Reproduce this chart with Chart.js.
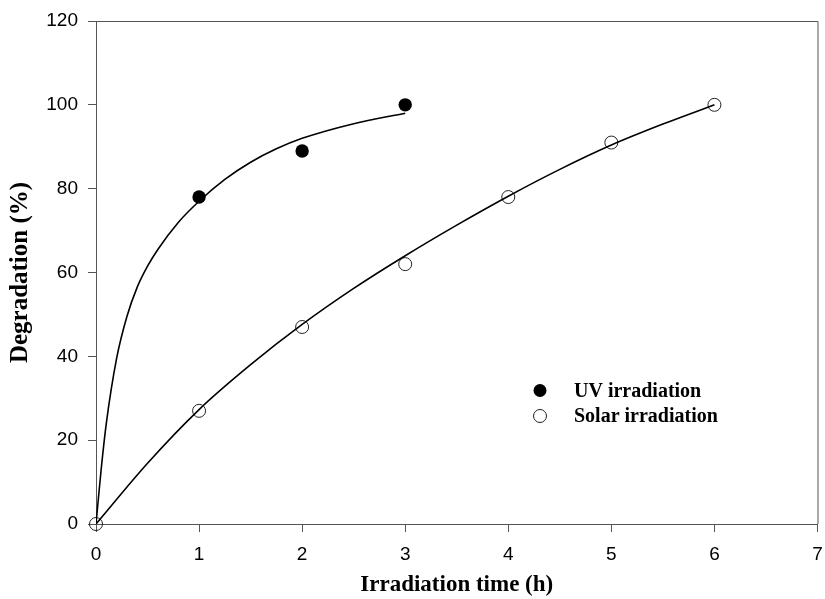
<!DOCTYPE html>
<html><head><meta charset="utf-8">
<script src="https://cdn.jsdelivr.net/npm/chart.js@4/dist/chart.umd.min.js"></script>
<style>html,body{margin:0;padding:0;background:#fff}#wrap{width:825px;height:599px}</style>
</head><body><div id="wrap"><canvas id="c" width="825" height="599"></canvas></div>
<script>
// measured points
const uvTime = [1, 2, 3];
const uvDeg = [78, 89, 100];
const solarTime = [0, 1, 2, 3, 4, 5, 6];
const solarDeg = [0, 27, 47, 62, 78, 91, 100];
// fitted curves
const uvFitTime = [0, 0.05, 0.1, 0.2, 0.3, 0.4, 0.5, 0.6, 0.8, 1.0, 1.25, 1.5, 1.75, 2.0, 2.5, 3.0];
const uvFitDeg  = [0, 13, 24, 39.5, 49.5, 56.5, 61.5, 65.5, 72, 77, 82.2, 86.3, 89.5, 92, 95.5, 98];
const solarFitTime = [0, 0.5, 1, 1.5, 2, 2.5, 3, 3.5, 4, 4.5, 5, 5.5, 6];
const solarFitDeg  = [0, 14.5, 27.3, 38, 47.6, 56.2, 64, 71.3, 78.2, 84.6, 90.4, 95.4, 100];
const xTicks = [0, 1, 2, 3, 4, 5, 6, 7];
const yTicks = [0, 20, 40, 60, 80, 100, 120];
const legendLabels = ['UV irradiation', 'Solar irradiation'];
const xTitle = 'Irradiation time (h)';
const yTitle = 'Degradation (%)';

const pts = (xs, ys) => xs.map((x, i) => ({x, y: ys[i]}));

const frameAndLegend = {
  id: 'frameAndLegend',
  afterDraw(chart) {
    const {ctx, chartArea: a} = chart;
    ctx.save();
    ctx.strokeStyle = '#555';
    ctx.lineWidth = 1;
    ctx.beginPath();
    ctx.moveTo(a.left, a.top + 0.5); ctx.lineTo(a.right + 0.5, a.top + 0.5);
    ctx.lineTo(a.right + 0.5, a.bottom);
    ctx.stroke();
    // legend
    const mx = 540, rows = [390.5, 416];
    ctx.font = 'bold 20px "Liberation Serif", "Times New Roman", serif';
    ctx.textBaseline = 'middle';
    rows.forEach((yy, i) => {
      ctx.beginPath();
      ctx.arc(mx, yy, 6.5, 0, Math.PI * 2);
      if (i === 0) { ctx.fillStyle = '#000'; ctx.fill(); }
      else { ctx.strokeStyle = '#222'; ctx.lineWidth = 1; ctx.stroke(); }
      ctx.fillStyle = '#000';
      ctx.fillText(legendLabels[i], 574, yy + 1);
    });
    ctx.restore();
  }
};

new Chart(document.getElementById('c'), {
  type: 'scatter',
  data: {
    datasets: [
      {data: pts(uvFitTime, uvFitDeg), showLine: true, borderColor: '#000', borderWidth: 1.6,
       pointRadius: 0, cubicInterpolationMode: 'monotone', fill: false},
      {data: pts(solarFitTime, solarFitDeg), showLine: true, borderColor: '#000', borderWidth: 1.6,
       pointRadius: 0, cubicInterpolationMode: 'monotone', fill: false},
      {data: pts(uvTime, uvDeg), showLine: false, pointRadius: 6.7, pointBackgroundColor: '#000',
       pointBorderColor: '#000', pointBorderWidth: 0, clip: false},
      {data: pts(solarTime, solarDeg), showLine: false, pointRadius: 6.5, pointBackgroundColor: 'rgba(255,255,255,0)',
       pointBorderColor: '#222', pointBorderWidth: 1, clip: false}
    ]
  },
  options: {
    responsive: false, animation: false, devicePixelRatio: 1,
    layout: {padding: {top: 21, right: 6, left: 0, bottom: 0}},
    plugins: {legend: {display: false}, tooltip: {enabled: false}},
    scales: {
      x: {
        type: 'linear', min: 0, max: 7,
        afterBuildTicks: s => { s.ticks = xTicks.map(v => ({value: v})); },
        afterFit: s => { s.height = 75; s.paddingRight = 0; s.paddingLeft = 0; },
        border: {display: true, color: '#555', width: 1},
        grid: {display: true, drawOnChartArea: false, drawTicks: true, tickLength: 8, color: '#555'},
        ticks: {color: '#000', padding: 11, font: {family: '"Liberation Sans", Arial, sans-serif', size: 19}},
        title: {display: true, text: xTitle, color: '#000', padding: {top: 0, bottom: 0},
                font: {family: '"Liberation Serif", "Times New Roman", serif', size: 23, weight: 'bold'}}
      },
      y: {
        type: 'linear', min: 0, max: 120,
        afterBuildTicks: s => { s.ticks = yTicks.map(v => ({value: v})); },
        afterFit: s => { s.width = 96; s.paddingTop = 0; s.paddingBottom = 0; },
        border: {display: true, color: '#555', width: 1},
        grid: {display: true, drawOnChartArea: false, drawTicks: true, tickLength: 8, color: '#555'},
        ticks: {color: '#000', padding: 10, font: {family: '"Liberation Sans", Arial, sans-serif', size: 19}},
        title: {display: true, text: yTitle, color: '#000', padding: {top: 6, bottom: 0},
                font: {family: '"Liberation Serif", "Times New Roman", serif', size: 25, weight: 'bold'}}
      }
    }
  },
  plugins: [frameAndLegend]
});
</script>
</body></html>
